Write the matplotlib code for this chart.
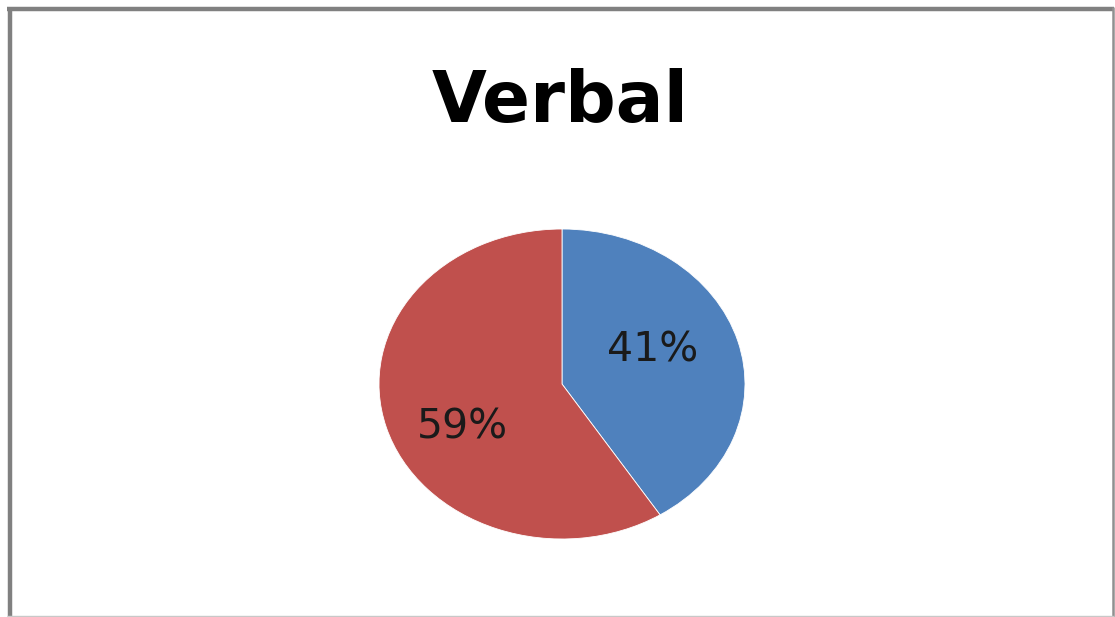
import matplotlib
matplotlib.use("Agg")
import matplotlib.pyplot as plt
from matplotlib.lines import Line2D

title = "Verbal"
categories = ["Blue group", "Red group"]
values = [41, 59]
colors = ["#4F81BD", "#C0504D"]

W, H = 1115, 617
fig = plt.figure(figsize=(W / 100, H / 100), dpi=100)
fig.patch.set_facecolor("white")

# pie axes (elliptical pie as in the reference)
ax = fig.add_axes([379 / W, (H - 539) / H, 366 / W, 310 / H])
wedges, texts, autotexts = ax.pie(
    values, colors=colors, startangle=90, counterclock=False,
    autopct=lambda p: f"{p:.0f}%", pctdistance=0.55,
    wedgeprops=dict(edgecolor="white", linewidth=0.6),
    textprops=dict(fontsize=29.5, color="#1a1a1a"),
)
for t in autotexts:
    x, y = t.get_position()
    t.set_position((x * 0.98 - 0.025, y * 1.62 - 0.035))
ax.set_xlim(-1, 1)
ax.set_ylim(-1, 1)
ax.set_aspect("auto")
ax.axis("off")

fig.text(560 / W, (H - 122) / H, title, ha="center", va="baseline",
         fontsize=51, fontweight="bold", color="black")

# chart frame
def fline(x0, y0, x1, y1, lw, c):
    fig.add_artist(Line2D([x0 / W, x1 / W], [1 - y0 / H, 1 - y1 / H],
                          transform=fig.transFigure, color=c, linewidth=lw,
                          solid_capstyle="butt"))

fline(7, 9, 1114, 9, 3.2, "#808080")
fline(9.5, 7, 9.5, 617, 3.2, "#808080")
fline(1112.5, 7, 1112.5, 617, 1.8, "#909090")
fline(7, 616, 1114, 616, 1.0, "#c8c8c8")

fig.savefig("out.png", dpi=100, facecolor="white")
